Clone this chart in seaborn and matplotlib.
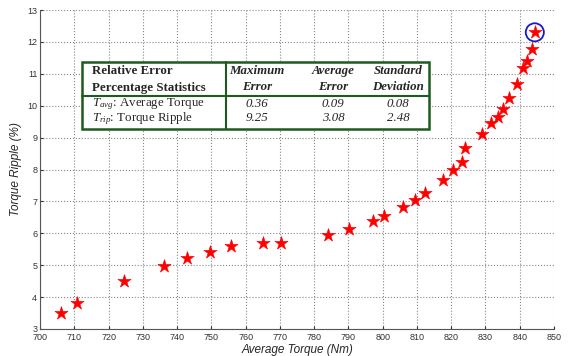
import matplotlib
matplotlib.use('Agg')
import matplotlib.pyplot as plt
import seaborn as sns
import pandas as pd

avg_torque = [706.1, 710.9, 724.5, 736.2, 742.8, 749.6, 755.6, 765.2, 770.2,
              784.1, 790.1, 797.1, 800.4, 806.0, 809.3, 812.4, 817.5,
              820.4, 823.1, 824.1, 829.0, 831.7, 833.6, 835.2, 836.9,
              839.3, 841.0, 842.2, 843.6, 844.4]
torque_ripple = [3.51, 3.81, 4.51, 4.97, 5.24, 5.42, 5.60, 5.71, 5.71,
                 5.94, 6.14, 6.39, 6.55, 6.81, 7.03, 7.26, 7.67,
                 7.98, 8.23, 8.68, 9.10, 9.45, 9.64, 9.90, 10.23,
                 10.67, 11.17, 11.41, 11.77, 12.30]

# Table contents
col_heads = [['Maximum', 'Error'], ['Average', 'Error'], ['Standard', 'Deviation']]
row_labels = [r'$T_{avg}$: Average Torque', r'$T_{rip}$: Torque Ripple']
avg_row = ['0.36', '0.09', '0.08']
rip_row = ['9.25', '3.08', '2.48']

df = pd.DataFrame({'Average Torque (Nm)': avg_torque, 'Torque Ripple (%)': torque_ripple})

sns.set_style('white')
plt.rcParams['font.family'] = ['Liberation Sans', 'DejaVu Sans']
plt.rcParams['mathtext.fontset'] = 'custom'
plt.rcParams['mathtext.it'] = 'Liberation Serif:italic'
plt.rcParams['mathtext.rm'] = 'Liberation Serif'

W, H = 574, 356
fig = plt.figure(figsize=(W / 100, H / 100), dpi=100)
ax = fig.add_axes([40 / W, 1 - 329 / H, 514 / W, 319 / H])

sns.scatterplot(data=df, x='Average Torque (Nm)', y='Torque Ripple (%)', marker='*',
                s=100, color='red', edgecolor='red', linewidth=0.4, ax=ax, zorder=3)
# circle the maximum point
imax = df['Torque Ripple (%)'].idxmax()
ax.scatter(df.loc[imax, 'Average Torque (Nm)'], df.loc[imax, 'Torque Ripple (%)'], s=170,
           facecolors='none', edgecolors='#1a1acc', linewidths=1.3, zorder=4)

ax.set_xlim(700, 850)
ax.set_ylim(3, 13)
ax.set_xticks(range(700, 851, 10))
ax.set_yticks(range(3, 14))
ax.grid(True, linestyle=':', color='#888888', linewidth=0.8)
for s in ['top', 'right']:
    ax.spines[s].set_visible(False)
for s in ['left', 'bottom']:
    ax.spines[s].set_color('#555555')
    ax.spines[s].set_linewidth(0.8)
ax.tick_params(axis='both', labelsize=6.5, colors='#333333', length=2, direction='in',
               left=True, bottom=True, pad=2)
ax.tick_params(axis='x', pad=3)
ax.set_xlabel('Average Torque (Nm)', fontsize=8.5, style='italic', labelpad=1)
ax.set_ylabel('Torque Ripple (%)', fontsize=8.5, style='italic', labelpad=4)

# ---- statistics table drawn on top ----
def fx(px):
    return px / W

def fy(py):
    return 1 - py / H

green = '#1e5a1e'
box = plt.Rectangle((fx(82), fy(128.5)), fx(429) - fx(82), fy(62) - fy(128.5),
                    transform=fig.transFigure, facecolor='white', edgecolor=green,
                    linewidth=1.8, zorder=5)
fig.patches.append(box)
fig.add_artist(plt.Line2D([fx(82), fx(429)], [fy(95.5), fy(95.5)], color=green, lw=1.5, zorder=6))
fig.add_artist(plt.Line2D([fx(225.5), fx(225.5)], [fy(62), fy(128.5)], color=green, lw=1.5, zorder=6))

serif = 'Liberation Serif'
fs = 9.3
fig.text(fx(92), fy(71), 'Relative Error', family=serif, weight='bold', fontsize=fs,
         ha='left', va='center', zorder=7)
fig.text(fx(92), fy(87.5), 'Percentage Statistics', family=serif, weight='bold', fontsize=fs,
         ha='left', va='center', zorder=7)
fig.text(fx(92), fy(104), row_labels[0], family=serif, fontsize=fs, ha='left', va='center', zorder=7)
fig.text(fx(92), fy(118.5), row_labels[1], family=serif, fontsize=fs, ha='left', va='center', zorder=7)

col_x = [257, 333, 398]
for cx, head, a, r in zip(col_x, col_heads, avg_row, rip_row):
    fig.text(fx(cx), fy(71), head[0], family=serif, weight='bold', style='italic', fontsize=fs,
             ha='center', va='center', zorder=7)
    fig.text(fx(cx), fy(87.5), head[1], family=serif, weight='bold', style='italic', fontsize=fs,
             ha='center', va='center', zorder=7)
    fig.text(fx(cx), fy(104), a, family=serif, style='italic', fontsize=fs,
             ha='center', va='center', zorder=7)
    fig.text(fx(cx), fy(118.5), r, family=serif, style='italic', fontsize=fs,
             ha='center', va='center', zorder=7)

fig.savefig('out.png', dpi=100)
